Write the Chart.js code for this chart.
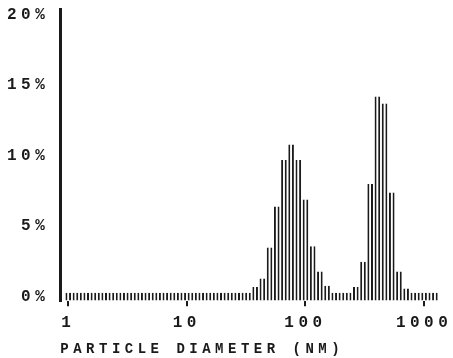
<!DOCTYPE html>
<html>
<head>
<meta charset="utf-8">
<script src="https://cdn.jsdelivr.net/npm/chart.js@4.4.0/dist/chart.umd.min.js"></script>
<style>
  html, body { margin: 0; padding: 0; background: #fff; }
  canvas { display: block; }
</style>
</head>
<body>
<canvas id="chart" width="453" height="358"></canvas>
<script>
// log-spaced size bins, 16.5 bins per decade, first bin centred on 1 nm
const binsPerDecade = 16.5;
// volume % in each bin
const volumePct = [
  0.3, 0.3, 0.3, 0.3, 0.3, 0.3, 0.3, 0.3, 0.3, 0.3,
  0.3, 0.3, 0.3, 0.3, 0.3, 0.3, 0.3, 0.3, 0.3, 0.3,
  0.3, 0.3, 0.3, 0.3, 0.3, 0.3,
  0.7, 1.3, 3.5, 6.4, 9.7, 10.8, 9.7, 6.9, 3.6, 1.8, 0.8,
  0.3, 0.3, 0.3,
  0.7, 2.5, 8.0, 14.2, 13.7, 7.4, 1.8, 0.6,
  0.3, 0.3, 0.3, 0.3,
];
const yTicks = [0, 5, 10, 15, 20];
const xTicks = [0, 1, 2, 3]; // log10 of diameter
const xTitle = 'PARTICLE DIAMETER (NM)';

const ink = '#1a1a1a';
const mono = '"Liberation Mono", "DejaVu Sans Mono", monospace';
const tickFont = { family: mono, size: 16, weight: 'bold' };

// printer spacing between letters
const spacing = {
  id: 'spacing',
  beforeUpdate(chart) { chart.ctx.letterSpacing = '4.5px'; },
  beforeDraw(chart) { chart.ctx.letterSpacing = '4.5px'; },
};

const points = volumePct.map((v, i) => ({ x: i / binsPerDecade, y: v }));

// eslint-disable-next-line no-new
new Chart(document.getElementById('chart').getContext('2d'), {
  type: 'bar',
  data: {
    datasets: [{
      data: points,
      base: -0.25,
      backgroundColor: '#fff',
      borderColor: ink,
      borderWidth: { left: 2, right: 2, top: 0, bottom: 0 },
      borderSkipped: false,
      barPercentage: 1,
      categoryPercentage: 0.78,
    }],
  },
  plugins: [spacing],
  options: {
    responsive: false,
    animation: false,
    layout: { padding: { left: 6, right: 13, top: 0, bottom: 0 } },
    plugins: { legend: { display: false }, tooltip: { enabled: false } },
    scales: {
      x: {
        type: 'linear',
        offset: false,
        min: -0.067,
        max: 3.134,
        afterBuildTicks: (axis) => { axis.ticks = xTicks.map((v) => ({ value: v })); },
        ticks: {
          color: ink,
          font: { ...tickFont, lineHeight: 2.125 },
          padding: 0,
          maxRotation: 0,
          callback: (v) => String(Math.round(10 ** v)),
        },
        grid: {
          offset: false,
          drawOnChartArea: false,
          drawTicks: true,
          tickLength: 5,
          tickColor: ink,
          lineWidth: 2,
        },
        border: { display: false },
        title: {
          display: true,
          text: xTitle,
          align: 'start',
          color: ink,
          font: { family: mono, size: 14, weight: 'bold' },
          padding: { top: 1, bottom: 0 },
        },
      },
      y: {
        min: -0.3,
        max: 20.4,
        afterBuildTicks: (axis) => { axis.ticks = yTicks.map((v) => ({ value: v })); },
        ticks: {
          color: ink,
          font: { ...tickFont, lineHeight: 1 },
          padding: 1,
          callback: (v) => `${v}%`,
        },
        grid: {
          drawOnChartArea: false,
          drawTicks: true,
          tickLength: 10,
          tickColor: 'rgba(0,0,0,0)',
        },
        border: { display: true, color: ink, width: 3 },
      },
    },
  },
});
</script>
</body>
</html>
